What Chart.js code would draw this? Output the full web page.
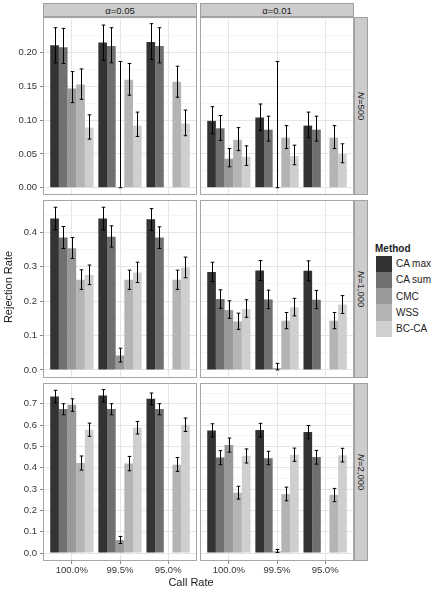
<!DOCTYPE html>
<html>
<head>
<meta charset="utf-8">
<script src="https://cdn.jsdelivr.net/npm/chart.js@4.4.1/dist/chart.umd.min.js"></script>
<style>
  body { margin: 0; background: #fff; font-family: "Liberation Sans", Arial, sans-serif; }
  #fig { position: relative; width: 432px; height: 590px; overflow: hidden; }
  #fig canvas, .strip, .txt, .key { position: absolute; }
  .strip { background: #cccccc; border: 1px solid #a0a0a0; box-sizing: border-box;
           font-size: 9.5px; color: #1a1a1a; display: flex; align-items: center; justify-content: center; }
  .strip.side { writing-mode: vertical-rl; }
  .txt { color: #1a1a1a; white-space: nowrap; }
</style>
</head>
<body>
<div id="fig"></div>
<script>
const callRates = ["100.0%", "99.5%", "95.0%"];
const methods = ["CA max", "CA sum", "CMC", "WSS", "BC-CA"];
const alphaLabels = ["α=0.05", "α=0.01"];
const sizeLabels = ["500", "1,000", "2,000"];
const fills = ["#333333", "#707070", "#999999", "#b4b4b4", "#cfcfcf"];

// rejection rate, one row per method, one column per call rate
const rateA05N500 = [[0.211, 0.215, 0.216], [0.208, 0.210, 0.210], [0.147, 0.001, null], [0.153, 0.160, 0.157], [0.089, 0.092, 0.095]];
const loA05N500   = [[0.185, 0.189, 0.190], [0.184, 0.185, 0.185], [0.126, 0.000, null], [0.131, 0.137, 0.134], [0.072, 0.076, 0.077]];
const hiA05N500   = [[0.237, 0.241, 0.243], [0.236, 0.237, 0.237], [0.172, 0.187, null], [0.176, 0.184, 0.180], [0.108, 0.112, 0.115]];

const rateA01N500 = [[0.099, 0.104, 0.092], [0.088, 0.086, 0.086], [0.043, 0.001, null], [0.071, 0.074, 0.074], [0.046, 0.047, 0.050]];
const loA01N500   = [[0.080, 0.085, 0.074], [0.070, 0.069, 0.069], [0.031, 0.000, null], [0.055, 0.058, 0.058], [0.033, 0.034, 0.037]];
const hiA01N500   = [[0.120, 0.124, 0.112], [0.107, 0.106, 0.106], [0.058, 0.187, null], [0.089, 0.092, 0.092], [0.062, 0.063, 0.065]];

const rateA05N1000 = [[0.440, 0.440, 0.438], [0.385, 0.387, 0.385], [0.354, 0.042, null], [0.262, 0.262, 0.262], [0.276, 0.283, 0.298]];
const loA05N1000   = [[0.407, 0.407, 0.405], [0.353, 0.357, 0.353], [0.324, 0.023, null], [0.234, 0.234, 0.234], [0.248, 0.254, 0.268]];
const hiA05N1000   = [[0.473, 0.473, 0.469], [0.417, 0.419, 0.416], [0.385, 0.063, null], [0.291, 0.290, 0.290], [0.305, 0.313, 0.328]];

const rateA01N1000 = [[0.285, 0.289, 0.288], [0.206, 0.205, 0.204], [0.174, 0.005, null], [0.141, 0.143, 0.143], [0.177, 0.182, 0.190]];
const loA01N1000   = [[0.257, 0.260, 0.259], [0.179, 0.178, 0.178], [0.150, 0.000, null], [0.118, 0.120, 0.120], [0.153, 0.157, 0.164]];
const hiA01N1000   = [[0.313, 0.318, 0.317], [0.233, 0.232, 0.231], [0.201, 0.019, null], [0.165, 0.167, 0.167], [0.204, 0.208, 0.216]];

const rateA05N2000 = [[0.734, 0.738, 0.723], [0.675, 0.675, 0.675], [0.695, 0.061, null], [0.422, 0.420, 0.414], [0.578, 0.589, 0.601]];
const loA05N2000   = [[0.703, 0.708, 0.695], [0.648, 0.648, 0.648], [0.664, 0.045, null], [0.389, 0.386, 0.383], [0.547, 0.558, 0.570]];
const hiA05N2000   = [[0.763, 0.766, 0.750], [0.700, 0.700, 0.700], [0.723, 0.078, null], [0.455, 0.453, 0.448], [0.609, 0.617, 0.633]];

const rateA01N2000 = [[0.575, 0.577, 0.567], [0.448, 0.445, 0.450], [0.506, 0.008, null], [0.283, 0.277, 0.273], [0.456, 0.461, 0.459]];
const loA01N2000   = [[0.544, 0.544, 0.536], [0.414, 0.414, 0.417], [0.473, 0.003, null], [0.253, 0.245, 0.241], [0.422, 0.430, 0.427]];
const hiA01N2000   = [[0.606, 0.608, 0.598], [0.480, 0.477, 0.481], [0.539, 0.017, null], [0.313, 0.309, 0.303], [0.488, 0.492, 0.491]];

// y tick labels per row (free scales)
const yTicksN500 = [0, 0.05, 0.10, 0.15, 0.20];
const yTicksN1000 = [0, 0.1, 0.2, 0.3, 0.4];
const yTicksN2000 = [0, 0.1, 0.2, 0.3, 0.4, 0.5, 0.6, 0.7];

const panels = [
  [[rateA05N500, loA05N500, hiA05N500], [rateA01N500, loA01N500, hiA01N500]],
  [[rateA05N1000, loA05N1000, hiA05N1000], [rateA01N1000, loA01N1000, hiA01N1000]],
  [[rateA05N2000, loA05N2000, hiA05N2000], [rateA01N2000, loA01N2000, hiA01N2000]]
];
const rowTicks = [yTicksN500, yTicksN1000, yTicksN2000];
const rowRange = [[-0.0108, 0.2529], [-0.0235, 0.494], [-0.037, 0.797]];
const rowDecimals = [2, 1, 1];

const FONT = "'Liberation Sans', Arial, sans-serif";
const rowTop = [17, 200, 383];
const panelH = 178;
const fig = document.getElementById("fig");

const errorBars = {
  id: "errorBars",
  afterDatasetsDraw(chart) {
    const ctx = chart.ctx;
    const ys = chart.scales.y;
    ctx.save();
    ctx.strokeStyle = "#000";
    ctx.lineWidth = 1;
    chart.data.datasets.forEach((ds, i) => {
      chart.getDatasetMeta(i).data.forEach((bar, j) => {
        if (ds.lo[j] == null) return;
        const x = Math.round(bar.x) + 0.5;
        const y1 = ys.getPixelForValue(ds.lo[j]);
        const y2 = ys.getPixelForValue(ds.hi[j]);
        ctx.beginPath();
        ctx.moveTo(x, y1); ctx.lineTo(x, y2);
        ctx.moveTo(x - 1.8, y1); ctx.lineTo(x + 1.8, y1);
        ctx.moveTo(x - 1.8, y2); ctx.lineTo(x + 1.8, y2);
        ctx.stroke();
      });
    });
    ctx.restore();
  }
};

const panelBorder = {
  id: "panelBorder",
  afterDraw(chart) {
    const a = chart.chartArea;
    const ctx = chart.ctx;
    ctx.save();
    ctx.strokeStyle = "#a6a6a6";
    ctx.lineWidth = 1;
    ctx.strokeRect(a.left + 0.5, a.top + 0.5, a.right - a.left - 1, a.bottom - a.top - 1);
    ctx.restore();
  }
};

function noPad(s) {
  s.paddingTop = 0; s.paddingBottom = 0; s.paddingLeft = 0; s.paddingRight = 0;
}

function drawPanel(row, col) {
  const [rate, lo, hi] = panels[row][col];
  const bottom = row === 2;
  const left = col === 0 ? 0 : 200;
  const width = col === 0 ? 197 : 154;
  const height = panelH + (bottom ? 20 : 0);
  const canvas = document.createElement("canvas");
  canvas.width = width; canvas.height = height;
  canvas.style.left = left + "px"; canvas.style.top = rowTop[row] + "px";
  canvas.style.width = width + "px"; canvas.style.height = height + "px";
  fig.appendChild(canvas);

  const majors = rowTicks[row];
  const isMajor = v => majors.some(m => Math.abs(m - v) < 1e-9);
  const step = majors[1] - majors[0];
  const gridVals = [];
  for (let v = 0; v <= rowRange[row][1] + 1e-9; v += step / 2) gridVals.push(Math.round(v * 1000) / 1000);

  const datasets = methods.map((m, k) => ({
    label: m,
    data: callRates.map((c, i) => ({ x: i + 1, y: rate[k][i] })),
    lo: lo[k], hi: hi[k],
    backgroundColor: fills[k],
    borderWidth: 0,
    categoryPercentage: 0.9,
    barPercentage: 1.0
  }));

  new Chart(canvas, {
    type: "bar",
    data: { datasets },
    plugins: [errorBars, panelBorder],
    options: {
      responsive: false,
      animation: false,
      layout: { padding: 0, autoPadding: false },
      plugins: { legend: { display: false }, tooltip: { enabled: false } },
      scales: {
        x: {
          type: "linear", min: 0.4, max: 3.6, offset: false,
          afterBuildTicks: s => { s.ticks = callRates.map((c, i) => ({ value: i + 1 })); },
          afterFit: s => { s.height = bottom ? 20 : 0; noPad(s); },
          ticks: {
            display: bottom, autoSkip: false, maxRotation: 0, padding: 1,
            callback: v => callRates[Math.round(v) - 1],
            font: { family: FONT, size: 9.5 }, color: "#333"
          },
          grid: { offset: false, color: "#e5e5e5", drawTicks: bottom, tickLength: 3, tickColor: "#8a8a8a" },
          border: { display: false }
        },
        y: {
          min: rowRange[row][0], max: rowRange[row][1],
          afterBuildTicks: s => { s.ticks = gridVals.map(v => ({ value: v })); },
          afterFit: s => { s.width = col === 0 ? 43 : 0; noPad(s); },
          ticks: {
            display: col === 0, padding: 3,
            callback: v => isMajor(v) ? v.toFixed(rowDecimals[row]) : "",
            font: { family: FONT, size: 9.5 }, color: "#333"
          },
          grid: {
            color: c => isMajor(c.tick.value) ? "#e5e5e5" : "#f5f5f5",
            drawTicks: col === 0, tickLength: 3,
            tickColor: c => isMajor(c.tick.value) ? "#8a8a8a" : "rgba(0,0,0,0)"
          },
          border: { display: false }
        }
      }
    }
  });
}

function addDiv(cls, html, css) {
  const d = document.createElement("div");
  d.className = cls;
  d.innerHTML = html;
  Object.assign(d.style, css);
  fig.appendChild(d);
  return d;
}

for (let r = 0; r < 3; r++) for (let c = 0; c < 2; c++) drawPanel(r, c);

// top strips
addDiv("strip", alphaLabels[0], { left: "43px", top: "3px", width: "154px", height: "14px" });
addDiv("strip", alphaLabels[1], { left: "200px", top: "3px", width: "154px", height: "14px" });
// side strips
sizeLabels.forEach((s, r) => {
  addDiv("strip side", "<i>N</i>=" + s, { left: "354px", top: rowTop[r] + "px", width: "14px", height: panelH + "px" });
});

// axis titles
addDiv("txt", "Call Rate", { left: "141px", width: "100px", textAlign: "center", top: "576px", fontSize: "11px" });
addDiv("txt", "Rejection Rate", { left: "-42px", top: "281px", width: "100px", textAlign: "center", fontSize: "11px", transform: "rotate(-90deg)" });

// legend
addDiv("txt", "<b>Method</b>", { left: "375px", top: "243px", fontSize: "10px" });
methods.forEach((m, k) => {
  const top = 255.5 + k * 16.3;
  addDiv("key", "", { left: "375.5px", top: top + "px", width: "16.5px", height: "16.3px", background: fills[k] });
  addDiv("txt", m, { left: "396px", top: (top + 2.5) + "px", fontSize: "10px", color: "#222" });
});
</script>
</body>
</html>
